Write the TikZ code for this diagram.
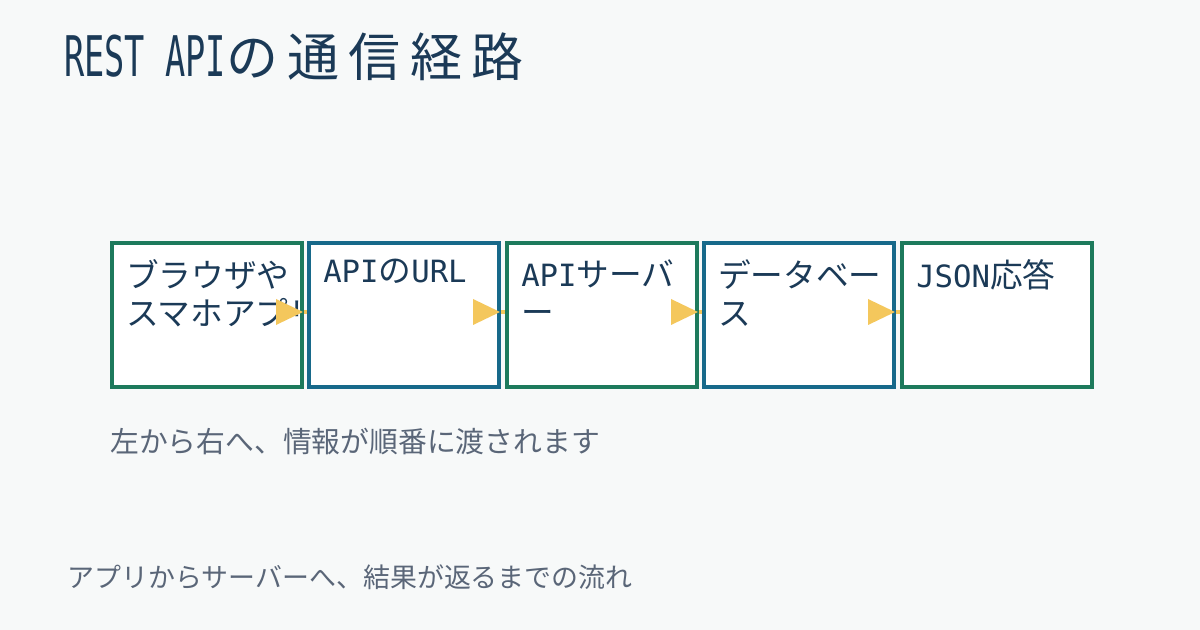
\documentclass[tikz,border=0pt]{standalone}
\usepackage{fontspec}
\setmainfont{Noto Sans CJK JP}
\newfontfamily\lmono{DejaVu Sans Mono}
\newfontfamily\tmono[FakeStretch=0.6]{DejaVu Sans Mono}
\newfontfamily\tcjk[LetterSpace=18]{Noto Sans CJK JP}
\definecolor{bg}{HTML}{F7F9F9}
\definecolor{cgreen}{HTML}{1D7A5C}
\definecolor{cblue}{HTML}{17698A}
\definecolor{ink}{HTML}{1B3A57}
\definecolor{arr}{HTML}{F4C75C}
\definecolor{muted}{HTML}{5A6678}
\newcommand{\lat}[1]{{\lmono\fontsize{23}{28.5}\selectfont #1}}
\begin{document}
\begin{tikzpicture}[x=0.75pt,y=-0.75pt,
  box/.style={draw=#1,line width=3pt,fill=white,minimum width=190*0.75pt,minimum height=144*0.75pt,inner sep=0pt,anchor=north west},
  lbl/.style={anchor=north west,align=left,text=ink,font=\fontsize{24.5}{28.5}\selectfont,inner sep=0pt},
  conn/.style={draw=arr,line width=3pt}]
\fill[bg] (0,0) rectangle (1200,630);
\useasboundingbox (0,0) rectangle (1200,630);
\node[anchor=base west,text=ink,inner sep=0pt,font=\fontsize{40}{44}\selectfont] (title) at (64,77) {{\tmono\fontsize{42}{44}\selectfont REST API}{\tcjk\fontsize{39}{44}\selectfont の通信経路}};
\node[box=cgreen] (b1) at (110,241) {};
\node[box=cblue] (b2) at (307,241) {};
\node[box=cgreen] (b3) at (505,241) {};
\node[box=cblue] (b4) at (702,241) {};
\node[box=cgreen] (b5) at (900,241) {};
\begin{scope}
\clip (112,243) rectangle (299,383);
\node[lbl] (t1) at (126,259) {ブラウザや\\スマホアプリ};
\end{scope}
\node[lbl] (t2) at (323,259) {\lat{API}の\lat{URL}};
\node[lbl] (t3) at (521,259) {\lat{API}サーバ\\ー};
\node[lbl] (t4) at (718,259) {データベー\\ス};
\node[lbl] (t5) at (916,259) {\lat{JSON}応答};
\foreach \a/\b in {b1/b2,b2/b3,b3/b4,b4/b5}{
  \draw[conn] ([yshift=-71*0.75pt]\a.north east) -- ([yshift=-71*0.75pt]\b.north west);
  \fill[arr] ([xshift=-28*0.75pt,yshift=-58*0.75pt]\a.north east) -- ([xshift=-1*0.75pt,yshift=-71*0.75pt]\a.north east) -- ([xshift=-28*0.75pt,yshift=-84*0.75pt]\a.north east) -- cycle;
}
\node[anchor=base west,text=muted,inner sep=0pt,font=\fontsize{21.6}{26}\selectfont] (cap) at (110,453) {左から右へ、情報が順番に渡されます};
\node[anchor=base west,text=muted,inner sep=0pt,font=\fontsize{20.2}{24}\selectfont] (foot) at (67,588) {アプリからサーバーへ、結果が返るまでの流れ};
\end{tikzpicture}
\end{document}
